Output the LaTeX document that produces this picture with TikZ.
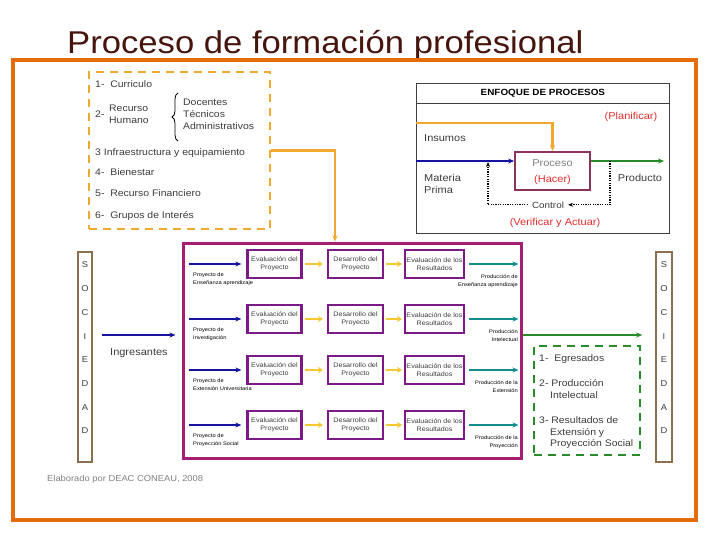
\documentclass[tikz,border=0pt]{standalone}
\usepackage{fontspec}
\setmainfont{Liberation Sans}[FakeStretch=1.1]
\usetikzlibrary{arrows.meta,decorations.pathreplacing,calc}
\definecolor{frameorange}{RGB}{228,108,10}
\definecolor{dashorange}{RGB}{240,168,48}
\definecolor{titlebrown}{RGB}{70,22,14}
\definecolor{mainmag}{RGB}{165,30,115}
\definecolor{boxpurple}{RGB}{125,25,135}
\definecolor{navy}{RGB}{20,20,160}
\definecolor{yel}{RGB}{245,200,50}
\definecolor{teal2}{RGB}{20,140,140}
\definecolor{grn}{RGB}{40,140,40}
\definecolor{socbrown}{RGB}{140,112,80}
\definecolor{redtxt}{RGB}{225,45,45}
\definecolor{procbox}{RGB}{140,50,95}
\definecolor{txtgray}{RGB}{60,60,60}
\tikzset{
  lbl/.style={inner sep=0pt, anchor=base west, text=txtgray, font=\fontsize{9.5}{11}\selectfont},
  ctr/.style={inner sep=0pt, anchor=base, font=\fontsize{10}{12}\selectfont},
  pbox/.style={draw=boxpurple, line width=2.2pt, minimum height=28pt, align=center, inner sep=1pt, text=txtgray, font=\fontsize{6.5}{8}\selectfont},
  tiny/.style={inner sep=0pt, font=\fontsize{5.2}{8}\selectfont, text=black},
  barr/.style={draw=navy, line width=2pt, -{Stealth[length=6pt,width=5pt]}},
  yarr/.style={draw=yel, line width=2.8pt, -{Stealth[length=5pt,width=6.5pt]}},
  tarr/.style={draw=teal2, line width=2pt, -{Stealth[length=6pt,width=5pt]}},
  garr/.style={draw=grn, line width=2pt, -{Stealth[length=6pt,width=5pt]}},
  oarr/.style={draw=dashorange, line width=2.2pt, -{Stealth[length=6pt,width=5pt]}},
  dotarr/.style={draw=black, line width=1.2pt, dash pattern=on 1.2pt off 1.2pt, -{Stealth[length=5pt,width=4pt]}},
  soc/.style={draw=socbrown, line width=1.5pt, minimum height=210pt},
  socl/.style={inner sep=0pt, font=\fontsize{8.5}{10}\selectfont, text=txtgray},
}
\begin{document}
\begin{tikzpicture}[x=1pt,y=-1pt]
\useasboundingbox (0,0) rectangle (720,540);
% title
\node[inner sep=0pt, anchor=base west, text=titlebrown, font=\fontsize{31.5}{36}\selectfont] (title) at (67,53.5) {Proceso de formación profesional};
% outer frame
\node[draw=frameorange, line width=4pt, minimum width=683pt, minimum height=460pt] (frame) at (354.5,290) {};

% resources dashed box
\node[draw=dashorange, line width=2.5pt, dash pattern=on 8pt off 6pt, minimum width=181pt, minimum height=157pt] (res) at (179.5,150.5) {};
\node[lbl] (r1) at (95,87.5) {1-\ \ Curriculo};
\node[lbl] (r2) at (95,117.5) {2-};
\node[lbl] (r2a) at (109,111.5) {Recurso};
\node[lbl] (r2b) at (109,123.5) {Humano};
\draw[black, line width=0.8pt, decorate, decoration={brace, amplitude=6pt}] (178,141) -- (178,93);
\node[lbl] (d1) at (183,105.5) {Docentes};
\node[lbl] (d2) at (183,117.5) {Técnicos};
\node[lbl] (d3) at (183,129.5) {Administrativos};
\node[lbl] (r3) at (95,155.5) {3 Infraestructura y equipamiento};
\node[lbl] (r4) at (95,175.5) {4-\ \ Bienestar};
\node[lbl] (r5) at (95,196.5) {5-\ \ Recurso Financiero};
\node[lbl] (r6) at (95,218.5) {6-\ \ Grupos de Interés};

% main magenta frame
\node[draw=mainmag, line width=3pt, minimum width=338pt, minimum height=215pt] (main) at (352,350.5) {};
\draw[oarr] (res.east) -| ([xshift=-17pt]main.north);

% enfoque de procesos
\node[draw=black!75, line width=0.8pt, minimum width=253pt, minimum height=150pt, anchor=north west] (enf) at (416,83) {};
\node[draw=black!75, line width=0.8pt, minimum width=253pt, minimum height=20pt, anchor=north west, font=\fontsize{9}{10}\selectfont\bfseries, text=black] (hdr) at (416,83) {ENFOQUE DE PROCESOS};
\node[draw=procbox, line width=1.8pt, minimum width=75pt, minimum height=38pt] (proc) at (552.5,171) {};
\node[ctr, text=gray] (proctxt) at (552.5,166.5) {Proceso};
\node[ctr, text=redtxt] (hacer) at (552.5,182.5) {(Hacer)};
\node[ctr, text=redtxt] (plan) at (631,119.5) {(Planificar)};
\node[lbl, text=txtgray, font=\fontsize{10}{12}\selectfont] (ins) at (424,141.5) {Insumos};
\node[lbl, text=txtgray, font=\fontsize{10}{12}\selectfont] (mat) at (424,181.5) {Materia};
\node[lbl, text=txtgray, font=\fontsize{10}{12}\selectfont] (pri) at (424,193.5) {Prima};
\node[ctr, text=txtgray] (prod) at (640,181.5) {Producto};
\node[ctr, text=txtgray, font=\fontsize{9}{11}\selectfont] (ctrl) at (548,208) {Control};
\node[ctr, text=redtxt] (verif) at (555,225.5) {(Verificar y Actuar)};
\coordinate (insin) at (416,123);
\coordinate (matin) at (416,161);
\coordinate (prodout) at (664,161);
\draw[oarr] (insin) -| (proc.north);
\draw[barr] (matin) -- (matin -| proc.west);
\draw[garr] (proc.east |- matin) -- (prodout);
\coordinate (fb1) at (610,161);
\coordinate (fb2) at (488,162);
\draw[dotarr] (fb1) |- ([xshift=4pt]ctrl.east);
\draw[dotarr] ([xshift=-4pt]ctrl.west) -| (fb2);

% sociedad boxes
\node[soc, minimum width=14pt] (socL) at (85,357) {};
\node[soc, minimum width=16pt] (socR) at (664,357) {};
\foreach \ch [count=\k] in {S,O,C,I,E,D,A,D}{
  \node[socl] (sl\k) at (85,{265+23.7*(\k-1)}) {\ch};
  \node[socl] (sr\k) at (664,{265+23.7*(\k-1)}) {\ch};
}

% ingresantes
\draw[barr, shorten <=9pt, shorten >=6pt] (socL.east |- 0,335) -- (main.west |- 0,335);
\node[lbl, font=\fontsize{10}{12}\selectfont] (ingr) at (110,355.5) {Ingresantes};

% rows
\foreach \i/\yc/\L/\R in {
  1/264/{Proyecto de\\Enseñanza aprendizaje}/{Producción de\\Enseñanza aprendizaje},
  2/319/{Proyecto de\\Investigación}/{Producción\\Intelectual},
  3/370/{Proyecto de\\Extensión Universitaria}/{Producción de la\\Extensión},
  4/425/{Proyecto de\\Proyección Social}/{Producción de la\\Proyección}}{
  \node[pbox, minimum width=54pt] (a\i) at (274.5,\yc) {Evaluación del\\Proyecto};
  \node[pbox, minimum width=55pt] (b\i) at (355.5,\yc) {Desarrollo del\\Proyecto};
  \node[pbox, minimum width=59pt] (c\i) at (434.5,\yc) {Evaluación de los\\Resultados};
  \draw[barr, shorten <=7pt, shorten >=5pt] (main.west |- a\i) -- (a\i.west);
  \draw[yarr, shorten <=2pt, shorten >=4pt] (a\i.east) -- (b\i.west);
  \draw[yarr, shorten <=2pt, shorten >=2pt] (b\i.east) -- (c\i.west);
  \draw[tarr, shorten <=4pt, shorten >=4pt] (c\i.east) -- (main.east |- c\i);
  \node[tiny, anchor=north west, align=left] (pl\i) at (193,{\yc+9}) {\L};
  \node[tiny, anchor=north east, align=right] (pr\i) at (518,{\yc+10}) {\R};
}

% output
\draw[garr, shorten >=13pt] (main.east |- 0,335) -- (socR.west |- 0,335);
\node[draw=grn, line width=2.5pt, dash pattern=on 8pt off 6pt, minimum width=106pt, minimum height=109pt] (outb) at (587,400.5) {};
\node[lbl, font=\fontsize{9.5}{11}\selectfont] (o1) at (539,361.5) {1-\ \ Egresados};
\node[lbl, font=\fontsize{9.5}{11}\selectfont] (o2) at (539,386.5) {2-\ Producción};
\node[lbl, font=\fontsize{9.5}{11}\selectfont] (o2b) at (550,398.5) {Intelectual};
\node[lbl, font=\fontsize{9.5}{11}\selectfont] (o3) at (539,423.5) {3-\ Resultados de};
\node[lbl, font=\fontsize{9.5}{11}\selectfont] (o3b) at (550,435.5) {Extensión y};
\node[lbl, font=\fontsize{9.5}{11}\selectfont] (o3c) at (550,446.5) {Proyección Social};

% credit
\node[lbl, text=gray, font=\fontsize{8.5}{10}\selectfont] (cred) at (47,481) {Elaborado por DEAC CONEAU, 2008};
\end{tikzpicture}
\end{document}
